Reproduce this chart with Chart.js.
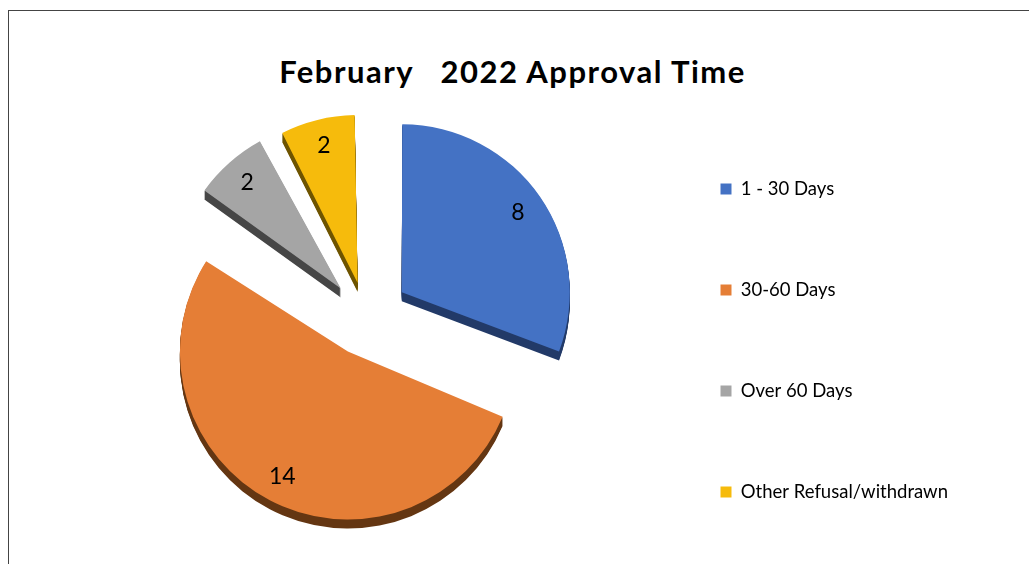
<!DOCTYPE html>
<html>
<head>
<meta charset="utf-8">
<script src="https://cdn.jsdelivr.net/npm/chart.js@4/dist/chart.umd.min.js"></script>
<style>
    html, body { margin: 0; padding: 0; background: #fff; overflow: hidden; }
    body { width: 1029px; height: 564px; position: relative; }
    .frame {
        position: absolute; left: 8px; top: 10px;
        width: 1060px; height: 600px;
        border: 1px solid #444;
    }
    .title {
        position: absolute; left: 0; top: 56px; width: 1025px;
        text-align: center; font: bold 31px Lato, sans-serif;
        letter-spacing: 1.5px;
        line-height: 1; color: #000; white-space: pre;
    }
    #approval-chart { position: absolute; left: 94px; top: 37px; }
</style>
</head>
<body>
<div class="frame"></div>
<div class="title">February   2022 Approval Time</div>
<canvas id="approval-chart" width="914" height="560"></canvas>

<script>
// Approval time data
const categories = ['1 - 30 Days', '30-60 Days', 'Over 60 Days', 'Other Refusal/withdrawn'];
const counts = [8, 14, 2, 2];

const faceColors = ['#4472C4', '#E57E36', '#A5A5A5', '#F6BB0C'];
const edgeColors = ['#223A68', '#643612', '#464646', '#6E5400'];
const explode = [174, 156, 152, 140];
const pieRadius = 168;

const legendFont = { family: 'Lato', size: 18.5 };
const legendPad = 82.5;
const legendBox = 11;

// legend width is fixed by its longest label, so measure it to keep
// the pie centre and the legend column where they belong
function legendRightPadding() {
    const m = document.createElement('canvas').getContext('2d');
    m.font = legendFont.size + 'px ' + legendFont.family;
    const textW = Math.max(...categories.map(c => m.measureText(c).width));
    const legendW = legendPad + legendBox + legendFont.size / 2 + textW + 10;
    return 914 - 544 - legendW;
}

// the arc element grows its radius by part of the offset; undo that
function extraRadius(el) {
    const offset = (el.options.offset || 0) / 4;
    const fix = 1 - Math.sin(Math.min(Math.PI, el.circumference || 0));
    return offset * fix;
}

const evenRadius = {
    id: 'evenRadius',
    afterDatasetUpdate(chart) {
        chart.getDatasetMeta(0).data.forEach(el => {
            el.outerRadius = pieRadius - extraRadius(el);
        });
    }
};

// fake 3D edge: redraw each slice a few px lower in a darker colour
const pieEdge = {
    id: 'pieEdge',
    beforeDatasetsDraw(chart) {
        const ctx = chart.ctx;
        chart.getDatasetMeta(0).data.forEach((el, i) => {
            const shadow = Object.create(el);
            shadow.options = Object.assign({}, el.options, {
                backgroundColor: edgeColors[i],
                borderColor: edgeColors[i]
            });
            for (let t = 1; t <= 9; t++) {
                ctx.save();
                ctx.translate(0, t);
                shadow.draw(ctx);
                ctx.restore();
            }
        });
    }
};

// value labels inside the slices
const sliceLabels = {
    id: 'sliceLabels',
    afterDatasetsDraw(chart) {
        const ctx = chart.ctx;
        ctx.save();
        ctx.font = '23px Lato, sans-serif';
        ctx.fillStyle = '#000';
        ctx.textAlign = 'center';
        ctx.textBaseline = 'middle';
        chart.getDatasetMeta(0).data.forEach((el, i) => {
            const mid = (el.startAngle + el.endAngle) / 2;
            const dist = (el.options.offset || 0) / 4 + pieRadius * 0.84;
            ctx.fillText(String(counts[i]), el.x + Math.cos(mid) * dist, el.y + Math.sin(mid) * dist);
        });
        ctx.restore();
    }
};

let approvalChart = null;
function createApprovalChart() {
    const ctx = document.getElementById('approval-chart').getContext('2d');
    approvalChart = new Chart(ctx, {
        type: 'pie',
        data: {
            labels: categories,
            datasets: [{
                data: counts,
                backgroundColor: faceColors,
                borderWidth: 0,
                offset: explode,
                radius: pieRadius
            }]
        },
        options: {
            responsive: false,
            animation: false,
            layout: {
                padding: { right: legendRightPadding() }
            },
            plugins: {
                tooltip: { enabled: false },
                legend: {
                    position: 'right',
                    align: 'center',
                    title: {
                        display: true,
                        text: '',
                        padding: 0,
                        font: { size: 10, lineHeight: '47px' }
                    },
                    labels: {
                        boxWidth: legendBox,
                        boxHeight: legendBox,
                        padding: legendPad,
                        color: '#000',
                        font: legendFont
                    }
                }
            }
        },
        plugins: [evenRadius, pieEdge, sliceLabels]
    });
    return approvalChart;
}

createApprovalChart();
</script>
</body>
</html>
